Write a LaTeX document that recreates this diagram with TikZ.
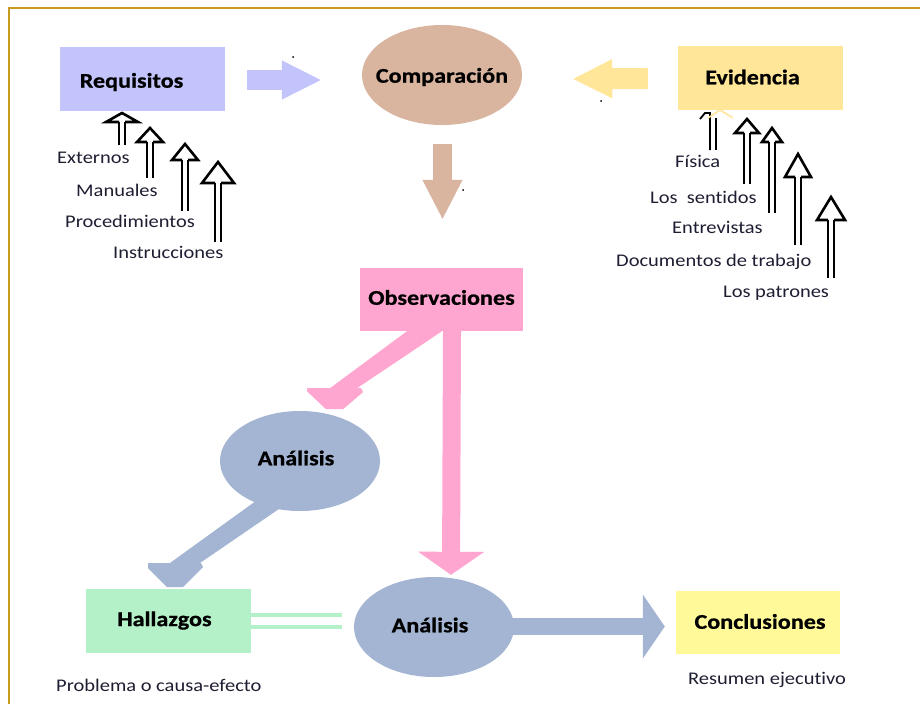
\documentclass[tikz,border=0pt]{standalone}
\usepackage{fontspec}
\setmainfont{Carlito}[FakeStretch=1.15, Ligatures=NoCommon, BoldFeatures={FakeBold=0.7}]
\usetikzlibrary{shapes.geometric,arrows.meta,calc}

\definecolor{reqc}{RGB}{196,196,252}
\definecolor{cmpc}{RGB}{217,181,160}
\definecolor{evic}{RGB}{255,230,153}
\definecolor{obsc}{RGB}{255,166,208}
\definecolor{anac}{RGB}{163,181,211}
\definecolor{halc}{RGB}{180,240,200}
\definecolor{conc}{RGB}{255,249,153}
\definecolor{framec}{RGB}{200,155,30}
\definecolor{notec}{RGB}{30,30,50}

% open arrow with a double shaft: x, apex y, base y, half width, bottom y
\newcommand\openarr[5]{%
  \draw[line width=1.8pt] (#1-3,#3) -- (#1-3,#5) (#1+3,#3) -- (#1+3,#5);
  \draw[line width=2.6pt, line join=miter]
    (#1-3,#3) -- (#1-#4,#3) -- (#1,#2) -- (#1+#4,#3) -- (#1+3,#3);
}

\begin{document}
\begin{tikzpicture}[x=1pt, y=-1pt,
  bfont/.style={font=\fontsize{21}{24}\selectfont\bfseries},
  box/.style={rectangle, minimum width=165pt, minimum height=64pt, inner sep=0pt},
  oval/.style={ellipse, minimum width=160pt, minimum height=100pt, inner sep=0pt},
  note/.style={anchor=base west, inner sep=0pt, text=notec, font=\fontsize{17.8}{20}\selectfont},
  lbl/.style={bfont, inner sep=0pt}
]
\useasboundingbox (0,0) rectangle (920,704);
\fill[white] (0,0) rectangle (920,704);

% page frame
\draw[framec, line width=2pt] (9,704) -- (9,8) -- (920,8);

% main stations
\node[box, fill=reqc, label={[lbl, xshift=-11pt, yshift=-3pt]center:Requisitos}] (req) at (142.5,79) {};
\node[oval, fill=cmpc, label={[lbl, yshift=-2pt]center:Comparación}] (cmp) at (442,75) {};
\node[box, fill=evic, label={[lbl, xshift=-8pt, yshift=0.5pt]center:Evidencia}] (evi) at (760.5,77.5) {};
\node[box, fill=obsc, minimum width=163pt, minimum height=63pt, label={[lbl, yshift=2pt]center:Observaciones}] (obs) at (441.5,299.5) {};
\node[oval, fill=anac, label={[lbl, xshift=-4pt, yshift=3pt]center:Análisis}] (an1) at (300,461) {};
\node[box, fill=halc, label={[lbl, xshift=-4pt, yshift=0pt]center:Hallazgos}] (hal) at (168.5,620.5) {};
\node[oval, fill=anac, label={[lbl, xshift=-4pt, yshift=2pt]center:Análisis}] (an2) at (434,627) {};
\node[box, fill=conc, minimum width=164pt, minimum height=63pt, label={[lbl, xshift=2pt, yshift=1pt]center:Conclusiones}] (con) at (758,622.5) {};

% block arrows between the stations
\draw[reqc, line width=20pt, -{Triangle[length=40pt, width=36pt]}]
  ($(req.east)+(22,1)$) -- ($(cmp.west)+(-40,5)$);
\draw[evic, line width=21pt, -{Triangle[length=40pt, width=36pt]}]
  ($(evi.west)+(-30,1)$) -- ($(cmp.east)+(50,4)$);
\draw[cmpc, line width=19pt, -{Triangle[length=40pt, width=37pt]}]
  ($(cmp.south)+(0.5,19)$) -- ($(obs.north)+(1,-48)$);
\draw[obsc, line width=18pt, -{Triangle[length=23pt, width=65pt]}]
  ($(obs.south)+(10.5,0)$) -- ($(an2.north)+(17,-2)$);
\draw[anac, line width=17pt, -{Triangle[length=22pt, width=63pt]}]
  ($(an2.east)+(-2,-0.5)$) -- ($(con.west)+(-11,4)$);

% slanted arrow from Observaciones down to the first Análisis
\begin{scope}[shift={(obs.south)}]
  \fill[obsc] (-34.5,0) -- (0.5,0) -- (-84.5,57) -- (-80.5,57) -- (-78.5,61)
    -- (-98.5,78) -- (-115.5,78) -- (-134.5,60) -- (-134.5,57) -- (-111.5,57) -- cycle;
\end{scope}

% slanted arrow from the first Análisis down to Hallazgos
\begin{scope}[shift={(an1.center)}]
  \fill[anac] (-40,37) -- (-5,37) -- (-100,102) -- (-99,102) -- (-97,106)
    -- (-117,126) -- (-133,126) -- (-152,107) -- (-152,102) -- (-130,102) -- cycle;
\end{scope}

% double link between Hallazgos and the second Análisis
\draw[halc, line width=4pt, double=white, double distance=8pt]
  (hal.east) -- ($(hal.east)+(91,0)$);

% sources feeding Requisitos
\openarr{122}{113}{122}{16}{145}
\openarr{150}{128}{142}{13}{178}
\openarr{185}{144}{160}{13}{211}
\openarr{218}{162}{183}{16}{242}
\node[note] (ext) at (57,163) {Externos};
\node[note] (man) at (76,196) {Manuales};
\node[note] (pro) at (65,227) {Procedimientos};
\node[note] (ins) at (113,258) {Instrucciones};

% sources feeding Evidencia
\draw[line width=1.8pt] (700,119) -- (705,113) -- (710,113) -- (710,150);
\draw[line width=1.8pt] (716,118) -- (716,150);
\draw[evic, line width=1.6pt] (708,118) -- (720,110) -- (733,118);
\openarr{747}{119}{133}{12}{184}
\openarr{772}{128}{142}{10}{213}
\openarr{798}{154}{177}{13}{245}
\openarr{831}{197}{220}{14}{278}
\node[note] (fis) at (675,167) {Física};
\node[note] (sen) at (650,203) {Los\ \ sentidos};
\node[note] (ent) at (672,233) {Entrevistas};
\node[note] (doc) at (616,266) {Documentos de trabajo};
\node[note] (pat) at (723,297) {Los patrones};

% captions under the results
\node[note] (pce) at (56,691) {Problema o causa-efecto};
\node[note] (res) at (688,684) {Resumen ejecutivo};

% stray marks
\fill (293,57) circle (1);
\fill (601,101) circle (1);
\fill (463,190) circle (1);
\end{tikzpicture}
\end{document}
